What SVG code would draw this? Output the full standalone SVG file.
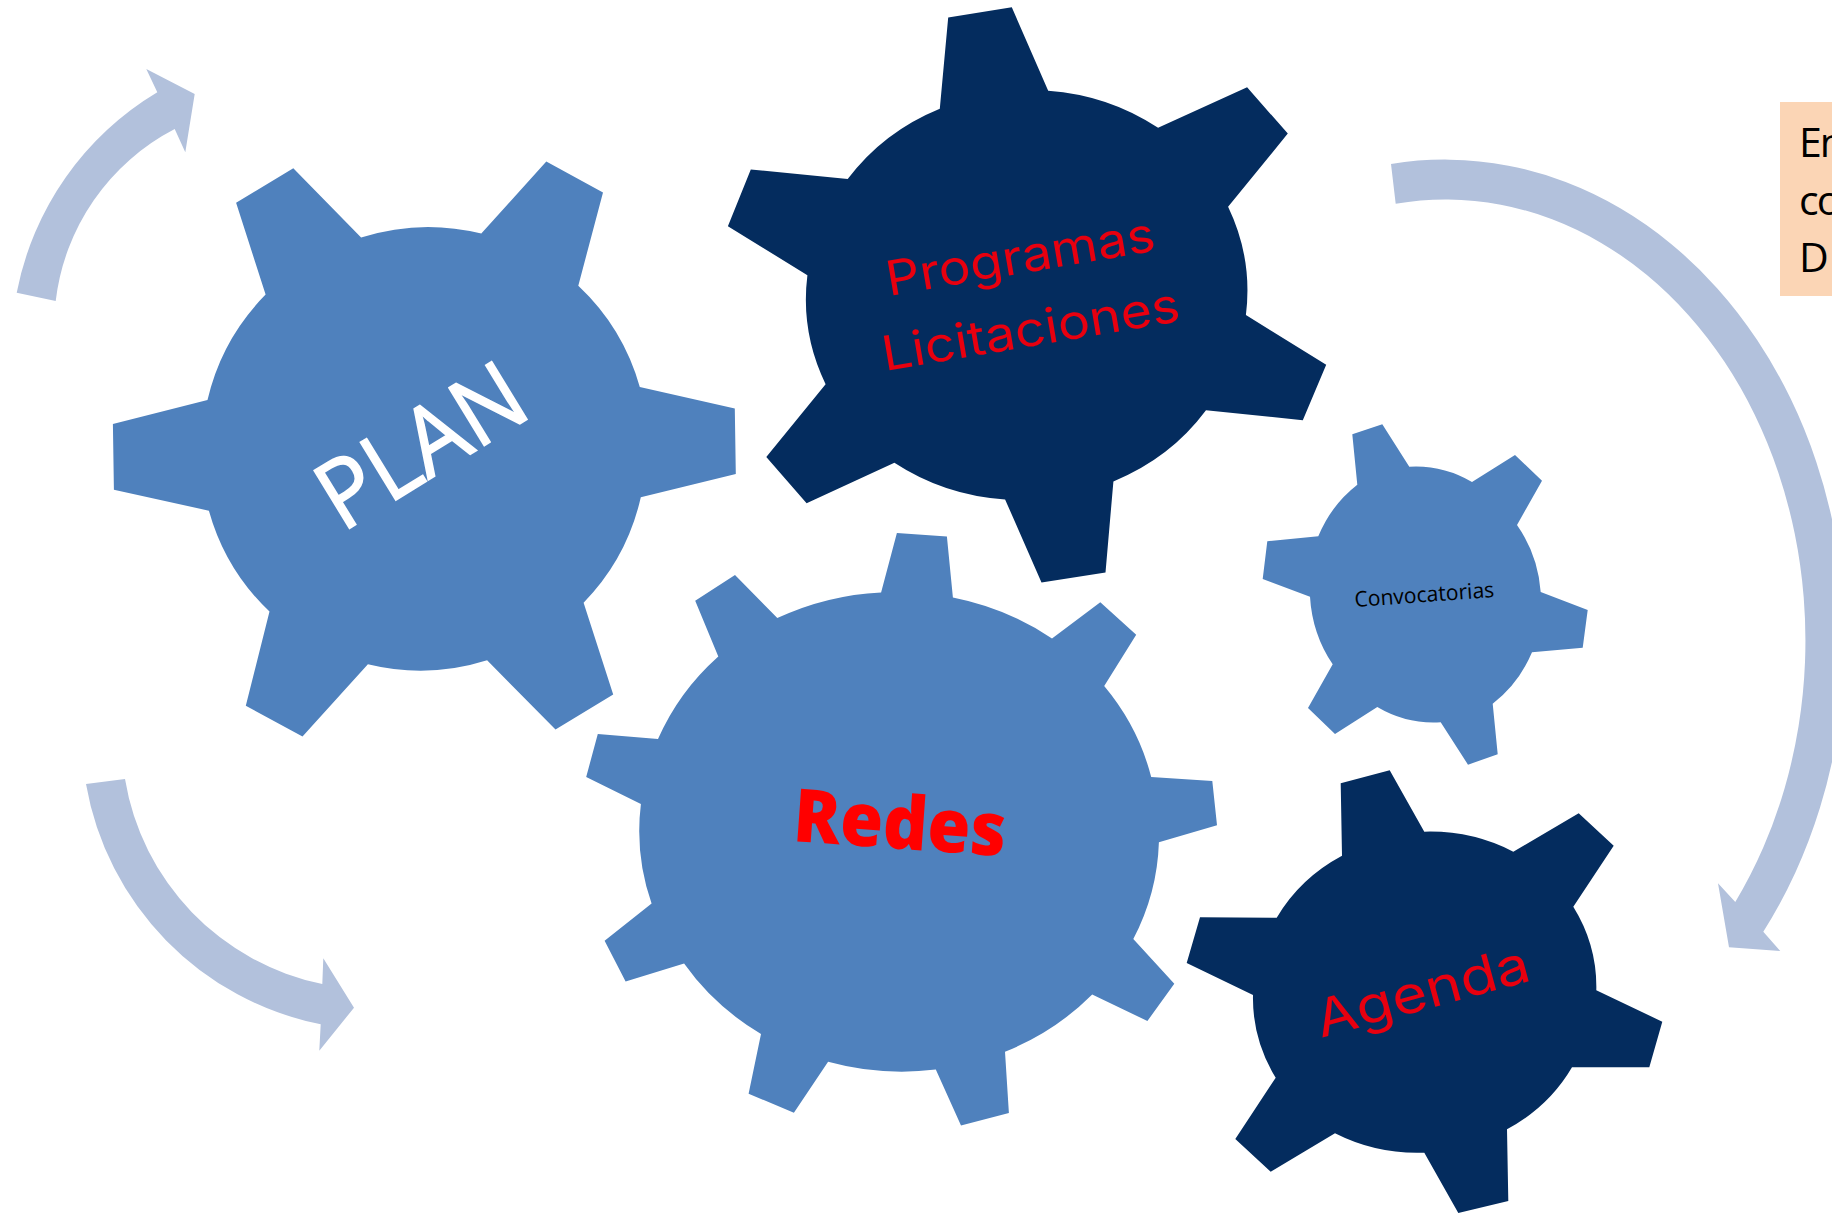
<svg xmlns="http://www.w3.org/2000/svg" width="1832" height="1213" viewBox="0 0 1832 1213">
<style>
.lt{fill:#4f81bd}
.dk{fill:#042c5e}
.ar{fill:#b2c1dc}
text{font-family:"Open Sans","Noto Sans",sans-serif}
.geo{font-family:"Inter","Noto Sans",sans-serif;font-weight:400;fill:#e8000f}
</style>
<rect width="1832" height="1213" fill="#ffffff"/>
<g id="connectors">
<path class="ar" d="M16.7,292.7 A300,300 0 0 1 157.3,92.3 L146.3,69 L194.7,94 L185.3,152.3 L174.7,129 A223,223 0 0 0 55.7,301 Z"/>
<path class="ar" d="M86,784 A297,297 0 0 0 320.7,1024.3 L319.3,1050.7 L354,1007.7 L323.3,958.3 L322.3,984 A251,251 0 0 1 125,779 Z"/>
<path class="ar" d="M1391,164 A400,481 0 0 1 1763.3,931.8 L1780.3,951 L1729,947.3 L1718,883.3 L1735.3,902 A360,441 0 0 0 1395.7,203.7 Z"/>
</g>
<g id="node-plan">
<path class="lt" d="M293.3,168.3 L361.1,237.5 A221,221 0 0 1 481.3,233.5 L546.3,161.6 L603,192.4 L578.3,285.7 A221,221 0 0 1 639.8,387 L734.8,408.5 L735.8,474.1 L640.8,497.3 A221,221 0 0 1 583.6,602.7 L613.2,694.6 L555.5,729.5 L487.1,660.3 A221,221 0 0 1 367.9,664.3 L302.5,736.6 L245.8,705.8 L269.5,611.6 A221,221 0 0 1 208.9,510.7 L113.9,489.7 L112.9,424.1 L207.5,400 A221,221 0 0 1 265.6,294.6 L236.1,202.7 Z"/>
<text transform="translate(342,533) rotate(-31.5)" font-size="95" fill="#ffffff" stroke="#ffffff" stroke-width="1.5" textLength="226" lengthAdjust="spacingAndGlyphs">PLAN</text>
</g>
<g id="node-programas">
<path class="dk" d="M948.2,17.6 L1011.8,7.3 L1048.2,90.7 A220,206 0 0 1 1158.1,127.8 L1247.1,87.3 L1287.8,133.6 L1228.1,206.7 A220,206 0 0 1 1245.9,315 L1326.2,364.7 L1302.8,420.2 L1206,410.3 A220,206 0 0 1 1113.4,481.4 L1105.5,572.5 L1041.5,582.5 L1005.1,499.4 A220,206 0 0 1 894.4,462.7 L806.6,503.3 L766.3,456.9 L825.6,384.2 A220,206 0 0 1 807.4,275.2 L727.9,226.2 L750.8,169.5 L847.7,179.1 A220,206 0 0 1 939.8,108.7 Z"/>
<text class="geo" transform="translate(889,296) rotate(-9.7)" font-size="48" textLength="272" lengthAdjust="spacingAndGlyphs">Programas</text>
<text class="geo" transform="translate(885,371) rotate(-9.6)" font-size="48" textLength="301" lengthAdjust="spacingAndGlyphs">Licitaciones</text>
</g>
<g id="node-redes">
<path class="lt" d="M896.9,533 L946.9,536.6 L952.9,597.5 A259,239 0 0 1 1052,638.6 L1100.3,602.2 L1136.2,634.7 L1104.2,686.1 A259,239 0 0 1 1151.2,777 L1212.3,781 L1217,825.3 L1158.9,842.3 A259,239 0 0 1 1133.3,939.1 L1174.3,983.8 L1147.4,1021 L1092.2,994.5 A259,239 0 0 1 1005,1051.8 L1008.9,1113.1 L961,1125.4 L935.8,1069.6 A259,239 0 0 1 828.1,1061.7 L793.9,1112.7 L748.6,1093.7 L761,1034 A259,239 0 0 1 684.1,963.6 L625.6,981.4 L604.6,940.7 L651.6,903.6 A259,239 0 0 1 640.9,803.9 L586.2,777 L597.8,733.9 L658,739.1 A259,239 0 0 1 718.3,656.4 L695.2,600.7 L735,575 L777.3,618.1 A259,239 0 0 1 881.1,592.4 Z"/>
<text transform="translate(792,841) rotate(4.1)" font-size="74" font-weight="800" fill="#ff0000" textLength="213" lengthAdjust="spacingAndGlyphs">Redes</text>
</g>
<g id="node-convocatorias">
<path class="lt" d="M1352.3,434.3 L1382.3,424.3 L1409.3,466.7 A118,128 0 0 1 1472,482 L1515,455 L1542,480.7 L1517,525 A118,128 0 0 1 1540.7,592 L1587.7,610 L1582.7,647.7 L1532,652.3 A118,128 0 0 1 1492.7,703.7 L1497.7,754.3 L1468,764.7 L1440.7,722.3 A118,128 0 0 1 1377.3,707 L1335,734 L1308,708 L1332.7,664.3 A118,128 0 0 1 1310,596.7 L1262.7,579 L1267.3,541.3 L1318.3,536.3 A118,128 0 0 1 1357.3,484.7 Z"/>
<text transform="translate(1355,607) rotate(-4.1)" font-size="21.5" fill="#000000" textLength="140" lengthAdjust="spacingAndGlyphs">Convocatorias</text>
</g>
<g id="node-agenda">
<path class="dk" d="M1340.7,783.3 L1389.7,770.3 L1424.3,831.7 A172,160 0 0 1 1513.3,851.7 L1578.7,813.3 L1613.7,845.7 L1573.3,906.7 A172,160 0 0 1 1596.3,990.3 L1662.3,1021.7 L1649.3,1067.3 L1572,1067.3 A172,160 0 0 1 1507,1129.3 L1508.3,1201 L1458.3,1213 L1424.3,1152.7 A172,160 0 0 1 1335,1133.3 L1270.7,1171.7 L1235.3,1139 L1275.7,1077.7 A172,160 0 0 1 1253,995 L1186.7,963 L1200,917.3 L1276.7,917.7 A172,160 0 0 1 1342,855.7 Z"/>
<text class="geo" transform="translate(1321,1038) rotate(-15.3)" font-size="52" textLength="220" lengthAdjust="spacingAndGlyphs">Agenda</text>
</g>
<g id="node-textbox">
<rect x="1780" y="102" width="52" height="194" fill="#fbd5b5"/>
<text x="1799" y="156.7" font-size="41" fill="#000000" letter-spacing="-2">En</text>
<text x="1799" y="215" font-size="41" fill="#000000" letter-spacing="-2">co</text>
<text x="1799" y="272" font-size="41" fill="#000000">D</text>
</g>
</svg>
